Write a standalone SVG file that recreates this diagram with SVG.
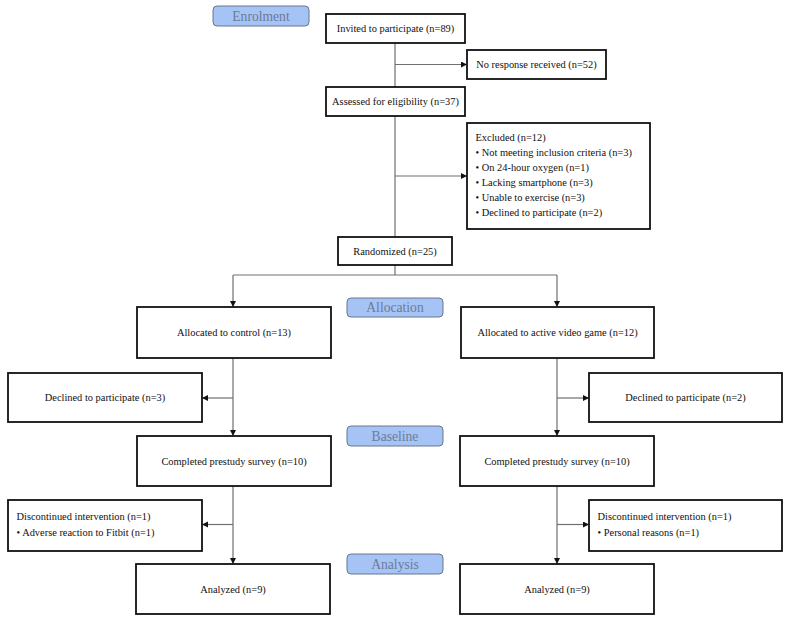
<svg xmlns="http://www.w3.org/2000/svg" width="790" height="619" viewBox="0 0 790 619">
<defs>
<marker id="ah" markerUnits="userSpaceOnUse" markerWidth="7" markerHeight="7" refX="6" refY="3" orient="auto">
<path d="M0,0 L6,3 L0,6 z" fill="#111"/>
</marker>
<style>
.box{fill:#fff;stroke:#111;stroke-width:1.8}
.pill{fill:#a6c3f6;stroke:#66768f;stroke-width:1}
.t{font-family:"Liberation Serif","Times New Roman",serif;font-size:10.4px;fill:#111}
.c{text-anchor:middle}
.pt{font-family:"Liberation Serif","Times New Roman",serif;font-size:13.6px;fill:#6b7b94;text-anchor:middle}
.ln{fill:none;stroke:#707070;stroke-width:1.2}
.ar{fill:none;stroke:#707070;stroke-width:1.2;marker-end:url(#ah)}
</style>
</defs>
<rect width="790" height="619" fill="#fff"/>
<g id="connectors">
<path class="ln" d="M395,43 V87"/>
<path class="ln" d="M395,116 V237"/>
<path class="ar" d="M395,64.5 H467"/>
<path class="ar" d="M395,176 H467"/>
<path class="ln" d="M395,265 V275 M233,275 H557"/>
<path class="ar" d="M233,275 V307"/>
<path class="ar" d="M557,275 V307"/>
<path class="ar" d="M233,358 V436"/>
<path class="ar" d="M233,398 H202"/>
<path class="ar" d="M557,358 V436"/>
<path class="ar" d="M557,398 H589"/>
<path class="ar" d="M233,486 V564"/>
<path class="ar" d="M233,524.5 H202"/>
<path class="ar" d="M557,486 V564"/>
<path class="ar" d="M557,524.5 H589"/>
</g>
<g id="enrolment"><rect class="pill" x="213" y="6" width="96" height="20" rx="4"/><text class="pt" x="261" y="20.7">Enrolment</text></g>
<g id="allocation"><rect class="pill" x="347" y="298" width="96" height="19" rx="4"/><text class="pt" x="395" y="312.2">Allocation</text></g>
<g id="baseline"><rect class="pill" x="347" y="426" width="96" height="20" rx="4"/><text class="pt" x="395" y="440.7">Baseline</text></g>
<g id="analysis"><rect class="pill" x="347" y="554" width="96" height="20" rx="4"/><text class="pt" x="395" y="568.7">Analysis</text></g>
<g id="invited"><rect class="box" x="326" y="14" width="139" height="29"/><text class="t c" x="395.5" y="32">Invited to participate (n=89)</text></g>
<g id="noresponse"><rect class="box" x="467" y="50" width="139" height="29"/><text class="t c" x="536.5" y="68">No response received (n=52)</text></g>
<g id="assessed"><rect class="box" x="326" y="87" width="139" height="29"/><text class="t c" x="395.5" y="105">Assessed for eligibility (n=37)</text></g>
<g id="excluded"><rect class="box" x="467" y="123" width="183" height="106"/>
<text class="t" x="475.5" y="140.7">Excluded (n=12)</text>
<text class="t" x="475.5" y="155.7">• Not meeting inclusion criteria (n=3)</text>
<text class="t" x="475.5" y="170.7">• On 24-hour oxygen (n=1)</text>
<text class="t" x="475.5" y="185.7">• Lacking smartphone (n=3)</text>
<text class="t" x="475.5" y="200.7">• Unable to exercise (n=3)</text>
<text class="t" x="475.5" y="215.7">• Declined to participate (n=2)</text>
</g>
<g id="randomized"><rect class="box" x="338" y="237" width="114" height="28"/><text class="t c" x="395" y="254.5">Randomized (n=25)</text></g>
<g id="alloc-control"><rect class="box" x="137" y="307" width="194" height="51"/><text class="t c" x="234" y="336">Allocated to control (n=13)</text></g>
<g id="alloc-avg"><rect class="box" x="461" y="307" width="193" height="51"/><text class="t c" x="557.5" y="336">Allocated to active video game (n=12)</text></g>
<g id="declined-control"><rect class="box" x="8" y="373" width="194" height="49"/><text class="t c" x="105" y="401">Declined to participate (n=3)</text></g>
<g id="declined-avg"><rect class="box" x="589" y="373" width="193" height="49"/><text class="t c" x="685.5" y="401">Declined to participate (n=2)</text></g>
<g id="completed-control"><rect class="box" x="137" y="436" width="194" height="50"/><text class="t c" x="234" y="464.5">Completed prestudy survey (n=10)</text></g>
<g id="completed-avg"><rect class="box" x="460" y="436" width="194" height="50"/><text class="t c" x="557" y="464.5">Completed prestudy survey (n=10)</text></g>
<g id="discontinued-control"><rect class="box" x="8" y="500" width="194" height="51"/>
<text class="t" x="16.5" y="519.5">Discontinued intervention (n=1)</text>
<text class="t" x="16.5" y="536">• Adverse reaction to Fitbit (n=1)</text></g>
<g id="discontinued-avg"><rect class="box" x="589" y="500" width="193" height="51"/>
<text class="t" x="597.5" y="519.5">Discontinued intervention (n=1)</text>
<text class="t" x="597.5" y="536">• Personal reasons (n=1)</text></g>
<g id="analyzed-control"><rect class="box" x="136" y="564" width="194" height="50"/><text class="t c" x="233" y="592.5">Analyzed (n=9)</text></g>
<g id="analyzed-avg"><rect class="box" x="460" y="564" width="194" height="50"/><text class="t c" x="557" y="592.5">Analyzed (n=9)</text></g>
</svg>
